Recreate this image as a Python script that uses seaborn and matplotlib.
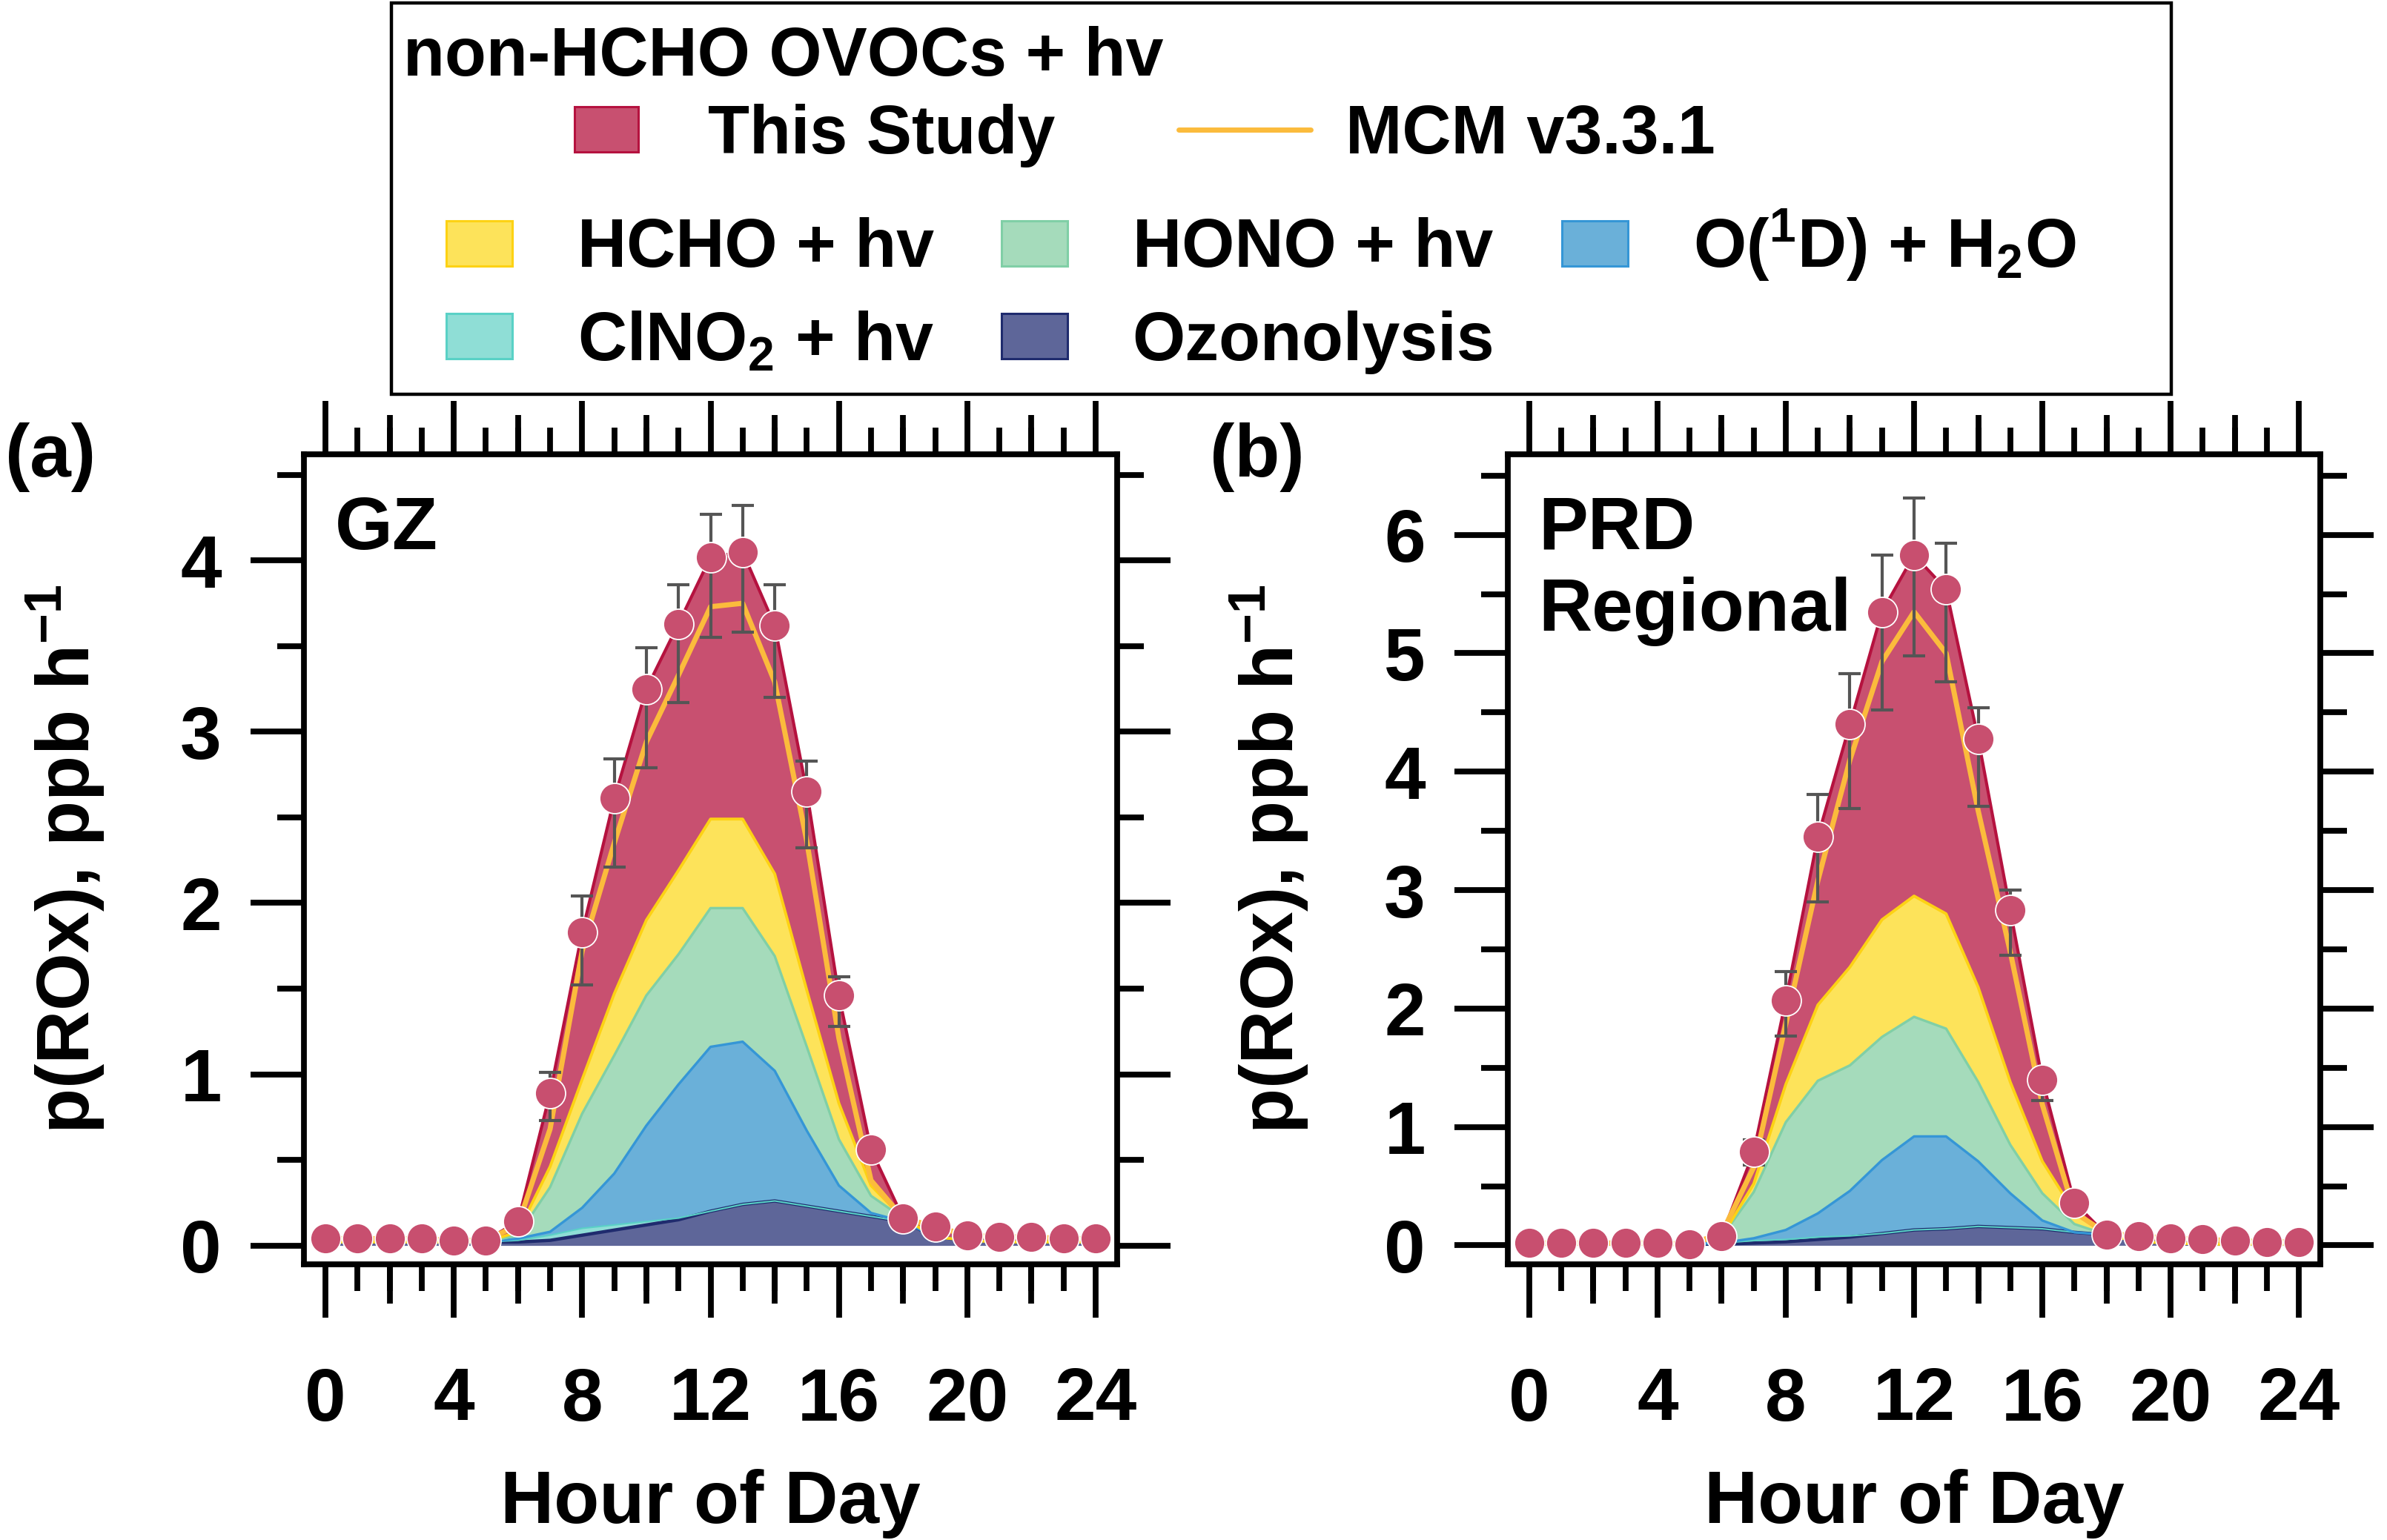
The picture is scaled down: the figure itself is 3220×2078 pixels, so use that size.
import numpy as np
import seaborn as sns
import matplotlib.pyplot as plt
from matplotlib.patches import Patch, Rectangle
from matplotlib.lines import Line2D
from matplotlib.ticker import MultipleLocator

# ---------------- data ----------------
hours = list(range(25))

# (a) GZ, ppb/h, contribution of each source
gz_ozonolysis = [.02, .02, .02, .02, .02, .02, .02, .03, .06, .09, .12, .15, .20, .24, .26, .23, .20, .17, .14, .05, .03, .02, .02, .02, .02]
gz_clno2 = [0, 0, 0, 0, 0, 0, .01, .03, .04, .03, .02, .01, 0, 0, 0, 0, 0, 0, 0, 0, 0, 0, 0, 0, 0]
gz_o1d = [0, 0, 0, 0, 0, 0, .01, .02, .12, .30, .56, .78, .96, .95, .76, .44, .15, .02, 0, 0, 0, 0, 0, 0, 0]
gz_hono = [0, 0, 0, 0, 0, 0, .02, .26, .55, .69, .76, .76, .81, .78, .67, .49, .27, .10, .02, 0, 0, 0, 0, 0, 0]
gz_hcho = [0, 0, 0, 0, 0, 0, .02, .12, .20, .36, .44, .49, .52, .52, .48, .33, .21, .06, 0, 0, 0, 0, 0, 0, 0]
gz_nonhcho = [.02, .02, .02, .02, .01, .01, .06, .43, .86, 1.14, 1.35, 1.44, 1.53, 1.56, 1.45, 1.16, .63, .21, 0, .06, .03, .03, .03, .02, .02]
gz_mcm = [.04, .04, .04, .04, .03, .03, .12, .68, 1.72, 2.35, 2.94, 3.33, 3.73, 3.75, 3.29, 2.36, 1.21, .38, .16, .11, .06, .05, .05, .04, .04]
gz_err_up = [0, 0, 0, 0, 0, 0, 0, .12, .21, .23, .24, .23, .25, .27, .24, .18, .11, .04, 0, 0, 0, 0, 0, 0, 0]
gz_err_dn = [0, 0, 0, 0, 0, 0, 0, .16, .31, .40, .46, .46, .47, .47, .42, .33, .18, .06, 0, 0, 0, 0, 0, 0, 0]

# (b) PRD regional
prd_ozonolysis = [.01, .01, .01, .01, .01, .01, .01, .02, .03, .05, .07, .10, .13, .14, .16, .15, .14, .11, .09, .03, .02, .01, .01, .01, .01]
prd_clno2 = [0, 0, 0, 0, 0, 0, .01, .02, .02, .02, .01, 0, 0, 0, 0, 0, 0, 0, 0, 0, 0, 0, 0, 0, 0]
prd_o1d = [0, 0, 0, 0, 0, 0, 0, .02, .08, .20, .38, .62, .79, .78, .55, .29, .07, 0, 0, 0, 0, 0, 0, 0, 0]
prd_hono = [0, 0, 0, 0, 0, 0, .05, .39, .91, 1.12, 1.06, 1.04, 1.01, .91, .67, .41, .23, .07, 0, 0, 0, 0, 0, 0, 0]
prd_hcho = [0, 0, 0, 0, 0, 0, 0, .07, .32, .64, .83, .99, 1.02, .97, .80, .53, .27, .10, 0, 0, 0, 0, 0, 0, 0]
prd_nonhcho = [.01, .01, .01, .01, .01, 0, .01, .27, .71, 1.42, 2.05, 2.60, 2.88, 2.74, 2.10, 1.45, .69, .08, 0, .05, .04, .04, .03, .02, .02]
prd_mcm = [.02, .02, .02, .02, .02, .01, .10, .66, 1.87, 3.08, 4.10, 4.93, 5.35, 5.00, 3.67, 2.48, 1.19, .28, .10, .08, .06, .05, .04, .03, .03]
prd_err_up = [0, 0, 0, 0, 0, 0, 0, .10, .24, .36, .43, .48, .48, .39, .26, .17, .07, .03, 0, 0, 0, 0, 0, 0, 0]
prd_err_dn = [0, 0, 0, 0, 0, 0, 0, .11, .30, .55, .71, .83, .85, .78, .57, .38, .18, .05, 0, 0, 0, 0, 0, 0, 0]

# ---------------- styling ----------------
layer_style = [  # fill, edge, edge width  (bottom -> top)
    ('#5e6699', '#1f2b6e', 3.2),   # ozonolysis
    ('#8fded6', '#5ad1c6', 1.5),   # ClNO2
    ('#6ab0d9', '#3596d6', 2.4),   # O1D
    ('#a5dbbb', '#80cfa6', 2.4),   # HONO
    ('#fde35a', '#fdd214', 2.8),   # HCHO
    ('#c85070', '#b5123f', 3.0),   # non-HCHO OVOCs
]
mcm_color = '#fbbb3c'
dot_color = '#c84f6f'
err_color = '#555555'

sns.set_theme(style='white')
plt.rcParams['font.family'] = ['Liberation Sans', 'DejaVu Sans']
plt.rcParams['font.weight'] = 'bold'
plt.rcParams['axes.labelweight'] = 'bold'
plt.rcParams['text.color'] = 'black'
plt.rcParams['axes.labelcolor'] = 'black'
plt.rcParams['xtick.color'] = 'black'
plt.rcParams['ytick.color'] = 'black'
plt.rcParams['mathtext.fontset'] = 'custom'
plt.rcParams['mathtext.rm'] = 'Liberation Sans:bold'
plt.rcParams['mathtext.it'] = 'Liberation Sans:bold'
plt.rcParams['mathtext.bf'] = 'Liberation Sans:bold'
plt.rcParams['mathtext.default'] = 'bf'

W, H = 3220, 2078
fig = plt.figure(figsize=(W / 100, H / 100), dpi=100)

FS = 72
LW = 5.6
MCM_LW = 5.0


def draw_panel(rect, sources, nonhcho, mcm, err_up, err_dn, ylim, ymax_tick, site, tag, tag_x):
    ax = fig.add_axes(rect)
    base = np.zeros(len(hours))
    for vals, (fc, ec, elw) in zip(sources + [nonhcho], layer_style):
        top = base + np.array(vals)
        ax.fill_between(hours, base, top, color=fc, lw=0, zorder=1)
        ax.plot(hours, top, color=ec, lw=elw, zorder=2)
        base = top
    total = base

    sns.lineplot(x=hours, y=mcm, ax=ax, color=mcm_color, linewidth=MCM_LW, zorder=3)

    up = np.array(err_up)
    dn = np.array(err_dn)
    m = (up + dn) > 0
    x = np.array(hours)[m]
    ax.errorbar(x, total[m], yerr=[dn[m], up[m]], fmt='none', ecolor=err_color,
                elinewidth=3.0, capsize=11, capthick=3.0, zorder=4)

    sns.scatterplot(x=hours, y=total, ax=ax, s=870, color=dot_color,
                    edgecolor='white', linewidth=1.3, zorder=5, legend=False)

    ax.set_xlim(-0.67, 24.67)
    ax.set_ylim(*ylim)
    ax.set_xticks(range(0, 25, 4))
    ax.xaxis.set_minor_locator(MultipleLocator(1))
    ax.set_yticks(range(0, ymax_tick + 1))
    ax.yaxis.set_minor_locator(MultipleLocator(0.5))
    ax.tick_params(axis='x', which='major', direction='out', length=52, width=LW,
                   bottom=True, top=True, labelsize=FS, pad=47, colors='black')
    ax.tick_params(axis='x', which='minor', direction='out', length=26, width=LW,
                   bottom=True, top=True, colors='black')
    ax.tick_params(axis='y', which='major', direction='out', length=52, width=LW,
                   left=True, right=True, labelsize=FS, pad=28, colors='black')
    ax.tick_params(axis='y', which='minor', direction='out', length=26, width=LW,
                   left=True, right=True, colors='black')
    for lab in ax.get_xticklabels() + ax.get_yticklabels():
        lab.set_fontweight('bold')

    # medium ticks every 2 h (between the 4 h majors), top and bottom
    for loc in ('bottom', 'top'):
        sec = ax.secondary_xaxis(loc)
        sec.set_xticks([2, 6, 10, 14, 18, 22])
        sec.tick_params(direction='out', length=38, width=LW, colors='black',
                        labelbottom=False, labeltop=False,
                        bottom=(loc == 'bottom'), top=(loc == 'top'))
        for s in sec.spines.values():
            s.set_visible(False)

    for s in ax.spines.values():
        s.set_linewidth(LW)
        s.set_color('black')
        s.set_zorder(6)

    ax.set_xlabel('Hour of Day', fontsize=FS, fontweight='bold', color='black')
    ax.xaxis.set_label_coords(0.5, -0.2525)
    ax.set_ylabel('p(ROx), ppb h$^{-1}$', fontsize=FS, fontweight='bold', color='black')
    ax.yaxis.set_label_coords(-0.2425, 0.5)

    ax.text(0.038, 0.950, site, transform=ax.transAxes, fontsize=FS, color='black',
            fontweight='bold', va='top', ha='left', linespacing=1.22, zorder=7)
    fig.text(tag_x / W, 1 - 617 / H, tag, fontsize=FS, fontweight='bold',
             va='center', ha='left', color='black')
    return ax


draw_panel([410 / W, 1 - 1706 / H, 1097 / W, 1093 / H],
           [gz_ozonolysis, gz_clno2, gz_o1d, gz_hono, gz_hcho], gz_nonhcho,
           gz_mcm, gz_err_up, gz_err_dn, (-0.11, 4.62), 4, 'GZ', '(a)', 7)
draw_panel([2034 / W, 1 - 1706 / H, 1096 / W, 1093 / H],
           [prd_ozonolysis, prd_clno2, prd_o1d, prd_hono, prd_hcho], prd_nonhcho,
           prd_mcm, prd_err_up, prd_err_dn, (-0.16, 6.68), 6, 'PRD\nRegional', '(b)', 1632)

# ---------------- legend ----------------
FL = 66
prop = dict(size=FL, weight='bold')

fig.add_artist(Rectangle((528 / W, 1 - 532 / H), (2929 - 528) / W, (532 - 4) / H,
                         transform=fig.transFigure, fill=False, ec='black', lw=3.2))
fig.text(544 / W, 1 - 102 / H, 'non-HCHO OVOCs + hv', fontsize=FL,
         fontweight='bold', va='baseline', ha='left', color='black')

fig.legend(handles=[Patch(facecolor=layer_style[5][0], edgecolor=layer_style[5][1], lw=2.2)],
           labels=['This Study'], loc='center left', bbox_to_anchor=(775 / W, 1 - 183 / H),
           frameon=False, borderpad=0, borderaxespad=0, handlelength=0.94,
           handleheight=0.64, handletextpad=1.02, prop=prop, labelcolor='black')
fig.legend(handles=[Line2D([], [], color=mcm_color, lw=MCM_LW)],
           labels=['MCM v3.3.1'], loc='center left', bbox_to_anchor=(1590 / W, 1 - 183 / H),
           frameon=False, borderpad=0, borderaxespad=0, handlelength=1.94,
           handletextpad=0.51, prop=prop, labelcolor='black')

src_labels = ['HCHO + hv', 'ClNO$_2$ + hv', 'HONO + hv', 'Ozonolysis', 'O($^{1}$D) + H$_2$O']
src_idx = [4, 1, 3, 0, 2]
fig.legend(handles=[Patch(facecolor=layer_style[i][0], edgecolor=layer_style[i][1], lw=2.2)
                    for i in src_idx],
           labels=src_labels, ncol=3, loc='center left', bbox_to_anchor=(602 / W, 1 - 392 / H),
           frameon=False, borderpad=0, borderaxespad=0, handlelength=0.97,
           handleheight=0.65, handletextpad=0.96, columnspacing=0.99,
           labelspacing=0.43, prop=prop, labelcolor='black')

fig.savefig('out.png', dpi=100)
